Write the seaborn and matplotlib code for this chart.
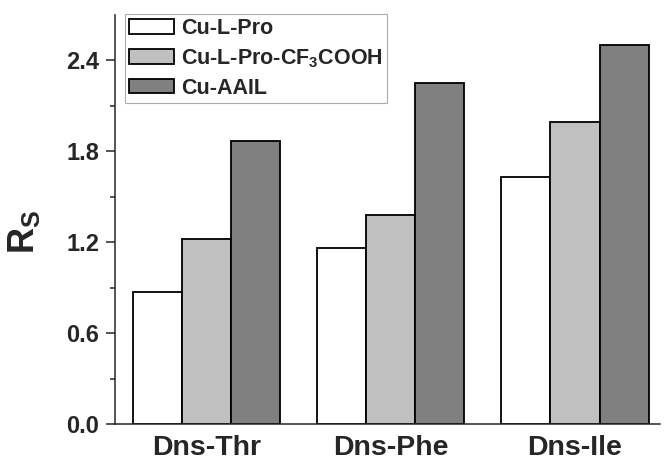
import matplotlib
matplotlib.use("Agg")
import matplotlib.pyplot as plt
import pandas as pd
import seaborn as sns

# values
peptides = ["Dns-Thr", "Dns-Phe", "Dns-Ile"]
series = ["Cu-L-Pro", "Cu-L-Pro-CF3COOH", "Cu-AAIL"]
cu_l_pro = [0.87, 1.16, 1.63]
cu_l_pro_tfa = [1.22, 1.38, 1.99]
cu_aail = [1.87, 2.25, 2.50]
legend_labels = ["Cu-L-Pro", r"Cu-L-Pro-CF$_\mathbf{3}$COOH", "Cu-AAIL"]
colors = ["#ffffff", "#c0c0c0", "#808080"]
y_ticks = [0.0, 0.6, 1.2, 1.8, 2.4]

df = pd.DataFrame({
    "peptide": peptides * 3,
    "catalyst": [s for s in series for _ in peptides],
    "Rs": cu_l_pro + cu_l_pro_tfa + cu_aail,
})

sns.set_style("ticks")
plt.rcParams["font.family"] = ["Liberation Sans", "DejaVu Sans"]
plt.rcParams["font.weight"] = "bold"
plt.rcParams["mathtext.fontset"] = "custom"
plt.rcParams["mathtext.rm"] = "Liberation Sans:bold"
plt.rcParams["mathtext.bf"] = "Liberation Sans:bold"

fig = plt.figure(figsize=(6.65, 4.63), dpi=100)
ax = fig.add_axes([0.173, 0.084, 0.819, 0.884])

sns.barplot(data=df, x="peptide", y="Rs", hue="catalyst", hue_order=series,
            palette=colors, edgecolor="black", linewidth=1.3, width=0.8,
            saturation=1, errorbar=None, ax=ax)

ax.set_xlim(-0.497, 2.46)
ax.set_ylim(0, 2.7)
ax.set_yticks(y_ticks)
ax.set_yticklabels([f"{t:.1f}" for t in y_ticks])
ax.set_yticks([0.3, 0.9, 1.5, 2.1], minor=True)
ax.tick_params(axis="y", which="major", length=6.5, width=1.1, labelsize=17, pad=5)
ax.tick_params(axis="y", which="minor", length=3.5, width=1.1)
ax.tick_params(axis="x", length=0, labelsize=20.5, pad=8)
for lab in ax.get_xticklabels() + ax.get_yticklabels():
    lab.set_fontweight("bold")

ax.set_xlabel("")
ax.set_ylabel(r"R$_\mathbf{S}$", fontsize=26, fontweight="bold")
ax.yaxis.set_label_coords(-0.135, 0.47)

sns.despine(ax=ax)
ax.spines["left"].set_linewidth(1.1)
ax.spines["bottom"].set_linewidth(1.1)

handles, _ = ax.get_legend_handles_labels()
leg = ax.legend(handles, legend_labels, loc="upper left",
                bbox_to_anchor=(0.018, 1.003), borderaxespad=0,
                frameon=True, fancybox=False, edgecolor="#999999",
                handlelength=2.1, handleheight=0.65,
                handletextpad=0.3, borderpad=0.2, labelspacing=0.38,
                prop={"weight": "bold", "size": 15.5})
leg.get_frame().set_linewidth(0.8)

fig.savefig("out.png", dpi=100)
